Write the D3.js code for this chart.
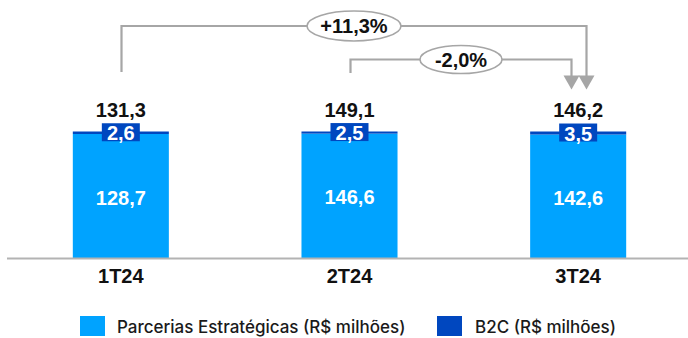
<!DOCTYPE html>
<html>
<head>
<meta charset="utf-8">
<script src="https://cdn.jsdelivr.net/npm/d3@7"></script>
<style>
  html, body { margin: 0; padding: 0; background: #fff; }
  svg { display: block; }
</style>
</head>
<body>
<svg id="chart" width="688" height="338"></svg>
<script>
// ---- data ----
const categories = ["1T24", "2T24", "3T24"];
const parcerias = [128.7, 146.6, 142.6];
const b2c = [2.6, 2.5, 3.5];
const totals = [131.3, 149.1, 146.2];
const parceriasLabels = ["128,7", "146,6", "142,6"];
const b2cLabels = ["2,6", "2,5", "3,5"];
const totalLabels = ["131,3", "149,1", "146,2"];
const growthFrom = [0, 1];
const growthTo = [2, 2];
const growthLabels = ["+11,3%", "-2,0%"];
const seriesNames = ["Parcerias Estratégicas (R$ milhões)", "B2C (R$ milhões)"];

// ---- style ----
const cLight = "#00A3FF";
const cDark = "#0047BF";
const cGray = "#A6A6A6";
const numFont = "'Liberation Sans', Arial, sans-serif";
const legFont = "Inter, 'Noto Sans', sans-serif";
const numSize = 20;

const svg = d3.select("#chart");

const x = d3.scaleBand()
  .domain(categories)
  .range([6.5, 692.5])
  .paddingInner(0.58)
  .paddingOuter(0.29);

// each bar drawn as share of its total (bars shown at equal height)
const y = d3.scaleLinear().domain([0, 1]).range([258, 131.5]);

const rows = categories.map((c, i) => ({
  cat: c,
  p: parcerias[i] / (parcerias[i] + b2c[i]),
  b: b2c[i] / (parcerias[i] + b2c[i]),
  i
}));

const cx = c => x(c) + x.bandwidth() / 2;

// bars
svg.append("g").selectAll("rect").data(rows).join("rect")
  .attr("x", d => x(d.cat)).attr("width", x.bandwidth())
  .attr("y", d => y(d.p)).attr("height", d => y(0) - y(d.p))
  .attr("fill", cLight);

svg.append("g").selectAll("rect").data(rows).join("rect")
  .attr("x", d => x(d.cat)).attr("width", x.bandwidth())
  .attr("y", d => y(d.p + d.b)).attr("height", d => y(d.p) - y(d.p + d.b))
  .attr("fill", cDark);

// axis line
svg.append("line")
  .attr("x1", 7).attr("x2", 688).attr("y1", y(0) + 0.5).attr("y2", y(0) + 0.5)
  .attr("stroke", "#B3B3B3").attr("stroke-width", 2);

// category labels
svg.append("g").selectAll("text").data(rows).join("text")
  .attr("x", d => cx(d.cat)).attr("y", 283)
  .attr("text-anchor", "middle")
  .attr("font-family", numFont).attr("font-weight", 700).attr("font-size", numSize)
  .attr("fill", "#111").text(d => d.cat);

// parcerias labels
svg.append("g").selectAll("text").data(rows).join("text")
  .attr("x", d => cx(d.cat)).attr("y", d => (y(0) + y(d.p)) / 2 + 8.5)
  .attr("text-anchor", "middle")
  .attr("font-family", numFont).attr("font-weight", 700).attr("font-size", numSize)
  .attr("fill", "#fff").text(d => parceriasLabels[d.i]);

// b2c label boxes
const bg = svg.append("g").selectAll("g").data(rows).join("g")
  .attr("transform", d => `translate(${cx(d.cat)},${(y(d.p) + y(d.p + d.b)) / 2})`);
bg.append("rect").attr("x", -19).attr("y", -9.5).attr("width", 38).attr("height", 18)
  .attr("fill", cDark);
bg.append("text").attr("y", 7.5).attr("text-anchor", "middle")
  .attr("font-family", numFont).attr("font-weight", 700).attr("font-size", numSize)
  .attr("fill", "#fff").text(d => b2cLabels[d.i]);

// totals
svg.append("g").selectAll("text").data(rows).join("text")
  .attr("x", d => cx(d.cat)).attr("y", d => y(d.p + d.b) - 15)
  .attr("text-anchor", "middle")
  .attr("font-family", numFont).attr("font-weight", 700).attr("font-size", numSize)
  .attr("fill", "#111").text(d => totalLabels[d.i]);

// growth arrows
const arrows = [
  { from: growthFrom[0], to: growthTo[0], label: growthLabels[0], yTop: 26, yStart: 72, dx: 8, rx: 47, ry: 15 },
  { from: growthFrom[1], to: growthTo[1], label: growthLabels[1], yTop: 59.5, yStart: 73, dx: -7, rx: 41, ry: 14 }
];
const tipY = 89.5, headH = 14, headW = 8;
const ag = svg.append("g");
arrows.forEach(a => {
  const x0 = Math.round(cx(categories[a.from])) + 0.5;
  const x1 = Math.round(cx(categories[a.to]) + a.dx) + 0.5;
  ag.append("path")
    .attr("d", `M${x0},${a.yStart}V${a.yTop}H${x1}V${tipY - headH + 1}`)
    .attr("fill", "none").attr("stroke", cGray).attr("stroke-width", 2.2);
  ag.append("path")
    .attr("d", `M${x1 - headW},${tipY - headH}L${x1 + headW},${tipY - headH}L${x1},${tipY}Z`)
    .attr("fill", cGray);
  const mx = (x0 + x1) / 2;
  ag.append("ellipse").attr("cx", mx).attr("cy", a.yTop)
    .attr("rx", a.rx).attr("ry", a.ry)
    .attr("fill", "#fff").attr("stroke", cGray).attr("stroke-width", 1.6);
  ag.append("text").attr("x", mx).attr("y", a.yTop + 7)
    .attr("text-anchor", "middle")
    .attr("font-family", numFont).attr("font-weight", 700).attr("font-size", numSize)
    .attr("fill", "#111").text(a.label);
});

// legend
const legend = [
  { name: seriesNames[0], color: cLight, x: 80, tx: 117 },
  { name: seriesNames[1], color: cDark, x: 437, tx: 475 }
];
const lg = svg.append("g");
legend.forEach(l => {
  lg.append("rect").attr("x", l.x).attr("y", 316).attr("width", 25).attr("height", 20).attr("fill", l.color);
  lg.append("text").attr("x", l.tx).attr("y", 333)
    .attr("font-family", legFont).attr("font-size", 17).attr("font-weight", 500)
    .attr("fill", "#1a1a1a").text(l.name);
});
</script>
</body>
</html>
